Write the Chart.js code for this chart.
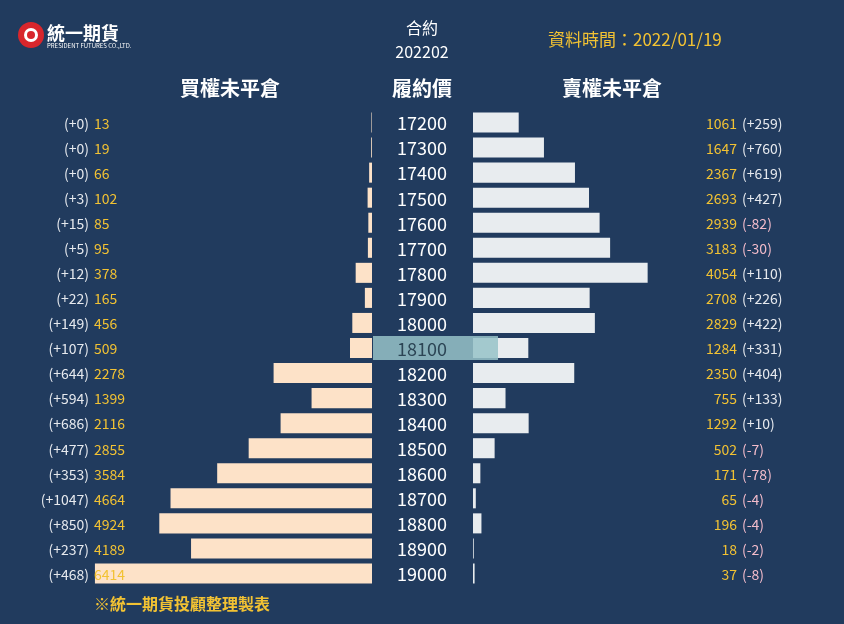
<!DOCTYPE html>
<html><head><meta charset="utf-8">
<script src="https://cdn.jsdelivr.net/npm/chart.js@4"></script>
<style>
html,body{margin:0;padding:0;background:#213b5e;}
#wrap{position:relative;width:844px;height:624px;overflow:hidden;}
canvas{position:absolute;left:0;top:0;}
</style></head><body>
<div id="wrap"><canvas id="cL" width="844" height="624"></canvas><canvas id="cR" width="844" height="624"></canvas></div>
<script>
const strikes=['17200','17300','17400','17500','17600','17700','17800','17900','18000','18100','18200','18300','18400','18500','18600','18700','18800','18900','19000'];
const callOI=[13,19,66,102,85,95,378,165,456,509,2278,1399,2116,2855,3584,4664,4924,4189,6414];
const callChg=[0,0,0,3,15,5,12,22,149,107,644,594,686,477,353,1047,850,237,468];
const putOI=[1061,1647,2367,2693,2939,3183,4054,2708,2829,1284,2350,755,1292,502,171,65,196,18,37];
const putChg=[259,760,619,427,-82,-30,110,226,422,331,404,133,10,-7,-78,-4,-4,-2,-8];
const atmStrike='18100';
const MAXV=8380;
const F='"Noto Sans CJK TC","Noto Sans",sans-serif';
const GOLD='#f2c233', WHITE='#e6e9ee', PINK='#f3bccb';
const sgn=v=>'('+(v>=0?'+':'')+v+')';

function base(data,color,reverse,pad,plugin){
 return {type:'bar',data:{labels:strikes,datasets:[{data:data,backgroundColor:color,borderWidth:0,barPercentage:0.8,categoryPercentage:1}]},
 options:{indexAxis:'y',responsive:false,animation:false,events:[],
  layout:{padding:pad},
  plugins:{legend:{display:false},tooltip:{enabled:false}},
  scales:{x:{min:0,max:MAXV,reverse:reverse,display:false},y:{display:false,offset:true}}},
  plugins:[plugin]};
}
const leftPlug={id:'lp',afterDatasetsDraw(c){
 const g=c.ctx,y=c.scales.y;g.save();g.textBaseline='middle';g.font='14px '+F;
 strikes.forEach((s,i)=>{const py=y.getPixelForValue(i);
  g.fillStyle=WHITE;g.textAlign='right';g.fillText(sgn(callChg[i]),89,py+1);
  g.fillStyle=GOLD;g.textAlign='left';g.fillText(String(callOI[i]),94,py+1);});
 g.restore();}};
const rightPlug={id:'rp',afterDatasetsDraw(c){
 const g=c.ctx,y=c.scales.y;g.save();g.textBaseline='middle';
 strikes.forEach((s,i)=>{const py=y.getPixelForValue(i);
  g.font='14px '+F;
  g.fillStyle=GOLD;g.textAlign='right';g.fillText(String(putOI[i]),737,py+1);
  g.fillStyle=putChg[i]<0?PINK:WHITE;g.textAlign='left';g.fillText(sgn(putChg[i]),742,py+1);
  if(s===atmStrike){g.fillStyle='rgba(150,195,200,0.85)';g.fillRect(373,py-12,125,24);}
  g.font='18px '+F;g.textAlign='center';g.fillStyle=s===atmStrike?'#2c4555':'#ffffff';g.fillText(s,422,py+1);});
 // headers
 g.font='bold 20px '+F;g.fillStyle='#ffffff';g.textAlign='center';
 g.fillText('買權未平倉',230,88);g.fillText('履約價',422,88);g.fillText('賣權未平倉',612,88);
 g.font='16px '+F;g.fillText('合約',422,28);g.fillText('202202',422,52);
 g.fillStyle=GOLD;g.font='17px '+F;g.textAlign='left';g.fillText('資料時間：2022/01/19',548,40);
 g.font='bold 16px '+F;g.fillText('※統一期貨投顧整理製表',94,604);
 // logo
 g.fillStyle='#d8262c';g.beginPath();g.arc(31,35,13,0,Math.PI*2);g.fill();
 g.fillStyle='#ffffff';g.beginPath();g.arc(31,35,7,0,Math.PI*2);g.fill();
 g.fillStyle='#d8262c';g.beginPath();g.arc(31,35,4,0,Math.PI*2);g.fill();
 g.fillStyle='#ffffff';g.font='bold 18px '+F;g.fillText('統一期貨',47,33);
 g.font='6px '+F;g.fillText('PRESIDENT FUTURES CO.,LTD.',47,46);
 g.restore();}};
new Chart(document.getElementById('cL'),base(callOI,'#fde2c8',true,{left:10,right:472,top:110,bottom:38},leftPlug));
new Chart(document.getElementById('cR'),base(putOI,'#e8ecef',false,{left:473,right:10,top:110,bottom:38},rightPlug));
</script></body></html>
